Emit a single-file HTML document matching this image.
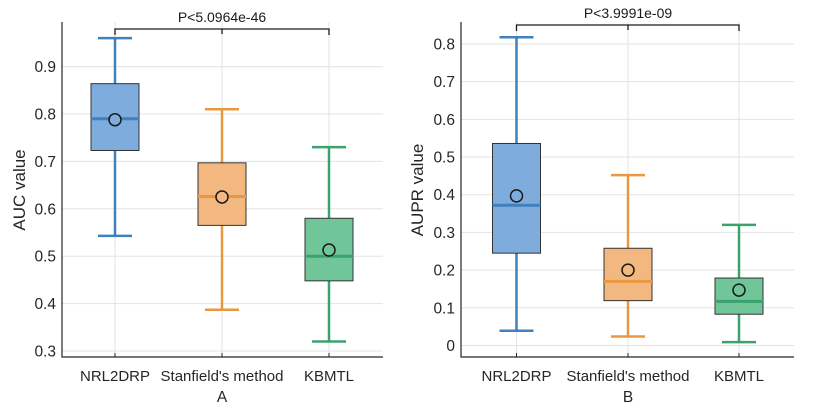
<!DOCTYPE html>
<html><head><meta charset="utf-8"><style>
body{margin:0;background:#fff;}
svg{font-family:"Liberation Sans",sans-serif;}
</style></head><body>
<svg id="chart" width="823" height="411" xmlns="http://www.w3.org/2000/svg"></svg>
<script>
const categories = ["NRL2DRP","Stanfield's method","KBMTL"];
const aucWhiskerHigh = [0.96,0.81,0.73];
const aucWhiskerLow = [0.543,0.387,0.32];
const aucQ1 = [0.723,0.565,0.448];
const aucQ3 = [0.864,0.697,0.58];
const aucMedian = [0.79,0.626,0.5];
const aucMean = [0.788,0.625,0.513];
const auprWhiskerHigh = [0.818,0.452,0.32];
const auprWhiskerLow = [0.039,0.024,0.009];
const auprQ1 = [0.245,0.119,0.083];
const auprQ3 = [0.536,0.258,0.179];
const auprMedian = [0.372,0.17,0.117];
const auprMean = [0.397,0.2,0.147];
const aucTicks = [0.3,0.4,0.5,0.6,0.7,0.8,0.9];
const auprTicks = [0,0.1,0.2,0.3,0.4,0.5,0.6,0.7,0.8];

const lineCols = ["#3f80bd","#e9983f","#3ba26f"];
const fillCols = ["#7eaddd","#f3b880","#70c698"];
const svg = document.getElementById('chart');
const NS = "http://www.w3.org/2000/svg";
function mk(tag, attrs, parent){const e=document.createElementNS(NS,tag);for(const k in attrs)e.setAttribute(k,attrs[k]);(parent||svg).appendChild(e);return e;}

function panel(p){
  const g = mk('g',{});
  
  
  const y = v => p.y0 + (v - p.v0) * p.pxPer;
  const x = i => p.xs[i];
  p.ticks.forEach(t=>{
    const l=mk('line',{x1:p.left,x2:p.right,y1:y(t),y2:y(t),stroke:"#e3e3e3","stroke-width":1},g);
    
    
    const tx=mk('text',{x:p.left-6,y:y(t)+5.5,"text-anchor":"end","font-size":15.5,fill:"#262626"},g);
    tx.textContent=String(t);
    
    
  });
  categories.forEach((c,i)=>{
    const l=mk('line',{x1:x(i),x2:x(i),y1:p.top,y2:p.bottom,stroke:"#e3e3e3","stroke-width":1},g);
    
    
    mk('line',{x1:x(i),x2:x(i),y1:p.bottom,y2:p.bottom-4,stroke:"#262626"},g);
    const tx=mk('text',{x:x(i),y:p.bottom+24,"text-anchor":"middle","font-size":15,fill:"#262626"},g);
    tx.textContent=c;
    
    
  });
  const ax=mk('path',{d:`M${p.left},${p.top} V${p.bottom} H${p.right}`,fill:"none",stroke:"#262626","stroke-width":1.2},g);
  
  
  categories.forEach((c,i)=>{
    const bg=mk('g',{},g);
    
    
    const hw=24, cw=17;
    mk('line',{x1:x(i),x2:x(i),y1:y(p.wh[i]),y2:y(p.wl[i]),stroke:lineCols[i],"stroke-width":2.5},bg);
    mk('line',{x1:x(i)-cw,x2:x(i)+cw,y1:y(p.wh[i]),y2:y(p.wh[i]),stroke:lineCols[i],"stroke-width":2.5},bg);
    mk('line',{x1:x(i)-cw,x2:x(i)+cw,y1:y(p.wl[i]),y2:y(p.wl[i]),stroke:lineCols[i],"stroke-width":2.5},bg);
    mk('rect',{x:x(i)-hw,y:y(p.q3[i]),width:2*hw,height:y(p.q1[i])-y(p.q3[i]),fill:fillCols[i],stroke:"#333","stroke-width":1},bg);
    mk('line',{x1:x(i)-hw,x2:x(i)+hw,y1:y(p.med[i]),y2:y(p.med[i]),stroke:lineCols[i],"stroke-width":3},bg);
    const m=mk('circle',{cx:x(i),cy:y(p.mean[i]),r:6,fill:fillCols[i],stroke:"#1a1a1a","stroke-width":1.5},bg);
    
    
  });
  const br=mk('path',{d:`M${x(0)},${p.brY+6} V${p.brY} H${x(2)} V${p.brY+6} M${x(1)},${p.brY} V${p.brY+5}`,fill:"none",stroke:"#1a1a1a","stroke-width":1.3},g);
  
  
  const pt=mk('text',{x:x(1),y:p.brY-7,"text-anchor":"middle","font-size":14,fill:"#1a1a1a"},g);
  pt.textContent=p.pText;
  
  
  const yt=mk('text',{x:0,y:0,"text-anchor":"middle","font-size":17,fill:"#262626",transform:`translate(${p.ytX},${p.ytY}) rotate(-90)`},g);
  yt.textContent=p.ytitle;
  
  
  const xt=mk('text',{x:x(1),y:p.bottom+45,"text-anchor":"middle","font-size":15.5,fill:"#262626"},g);
  xt.textContent=p.xtitle;
  
  
}
panel({name:'panel-a-auc',left:62,right:383,top:22,bottom:357,xs:[115,222,329],v0:0.3,y0:351,pxPer:-474,ticks:aucTicks,
  wh:aucWhiskerHigh,wl:aucWhiskerLow,q1:aucQ1,q3:aucQ3,med:aucMedian,mean:aucMean,brY:29,pText:"P<5.0964e-46",ytitle:"AUC value",ytX:25,ytY:190,xtitle:"A"});
panel({name:'panel-b-aupr',left:461,right:794,top:22,bottom:357,xs:[516.5,628,739],v0:0,y0:345.5,pxPer:-376.9,ticks:auprTicks,
  wh:auprWhiskerHigh,wl:auprWhiskerLow,q1:auprQ1,q3:auprQ3,med:auprMedian,mean:auprMean,brY:25,pText:"P<3.9991e-09",ytitle:"AUPR value",ytX:423,ytY:190,xtitle:"B"});
</script>
</body></html>
